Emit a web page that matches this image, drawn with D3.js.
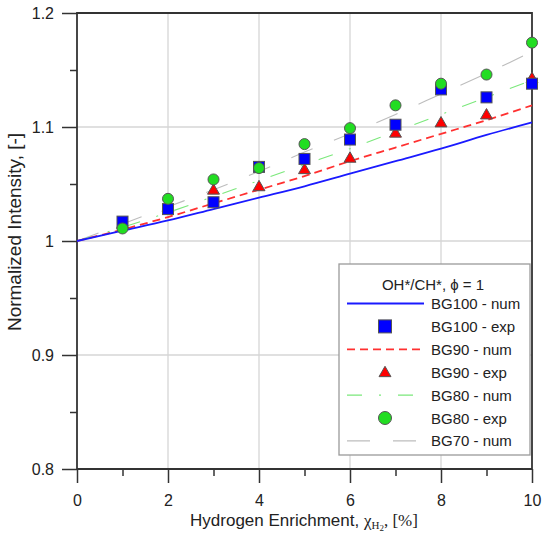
<!DOCTYPE html>
<html>
<head>
<meta charset="utf-8">
<script src="https://cdn.jsdelivr.net/npm/d3@7"></script>
<style>
  body { margin: 0; background: #fff; }
  text { font-family: "Liberation Sans", Arial, sans-serif; fill: #222; }
</style>
</head>
<body>
<svg id="chart"></svg>
<script>
// data
const xNum = [0, 1, 2, 3, 4, 5, 6, 7, 8, 9, 10];
const bg100Num = [1.0, 1.009, 1.018, 1.028, 1.038, 1.048, 1.059, 1.070, 1.081, 1.093, 1.104];
const bg90Num = [1.0, 1.010, 1.021, 1.033, 1.045, 1.057, 1.070, 1.082, 1.094, 1.106, 1.119];
const bg80Num = [1.0, 1.012, 1.025, 1.039, 1.053, 1.067, 1.081, 1.096, 1.111, 1.126, 1.141];
const bg70Num = [1.0, 1.015, 1.030, 1.045, 1.061, 1.078, 1.094, 1.111, 1.129, 1.147, 1.166];

const xExp = [1, 2, 3, 4, 5, 6, 7, 8, 9, 10];
const bg100Exp = [1.017, 1.028, 1.034, 1.065, 1.072, 1.089, 1.102, 1.133, 1.126, 1.138];
const bg90Exp = [1.015, 1.030, 1.045, 1.048, 1.063, 1.073, 1.095, 1.104, 1.111, 1.143];
const bg80Exp = [1.011, 1.037, 1.054, 1.064, 1.085, 1.099, 1.119, 1.138, 1.146, 1.174];

const xTicks = [0, 2, 4, 6, 8, 10];
const xMinor = [1, 3, 5, 7, 9];
const yTicks = [0.8, 0.9, 1.0, 1.1, 1.2];
const yMinor = [0.85, 0.95, 1.05, 1.15];

const width = 543;
const height = 541;
const pLeft = 77, pRight = 532, pTop = 13, pBottom = 469;

const svg = d3.select("#chart").attr("width", width).attr("height", height);

const x = d3.scaleLinear().domain([0, 10]).range([pLeft, pRight]);
const y = d3.scaleLinear().domain([0.8, 1.2]).range([pBottom, pTop]);

// grid
svg.append("g")
  .selectAll("line")
  .data([2, 4, 6, 8])
  .join("line")
  .attr("x1", (d) => x(d)).attr("x2", (d) => x(d))
  .attr("y1", pTop).attr("y2", pBottom)
  .style("stroke", "#d6d6d6").style("stroke-width", 1.3);
svg.append("g")
  .selectAll("line")
  .data([0.9, 1.0, 1.1])
  .join("line")
  .attr("x1", pLeft).attr("x2", pRight)
  .attr("y1", (d) => y(d)).attr("y2", (d) => y(d))
  .style("stroke", "#d6d6d6").style("stroke-width", 1.6);

// axes
let xAxis = svg.append("g")
  .attr("transform", `translate(0,${pBottom})`)
  .call(d3.axisBottom(x).tickValues(xTicks).tickSize(14).tickPadding(12).tickFormat(d3.format("d")));
let xAxisMinor = svg.append("g")
  .attr("transform", `translate(0,${pBottom})`)
  .call(d3.axisBottom(x).tickValues(xMinor).tickSize(7).tickFormat(""));
let yAxis = svg.append("g")
  .attr("transform", `translate(${pLeft},0)`)
  .call(d3.axisLeft(y).tickValues(yTicks).tickSize(15).tickPadding(8).tickFormat((d) => (d === 1 ? "1" : d3.format(".1f")(d))));
let yAxisMinor = svg.append("g")
  .attr("transform", `translate(${pLeft},0)`)
  .call(d3.axisLeft(y).tickValues(yMinor).tickSize(7).tickFormat(""));

[xAxis, xAxisMinor, yAxis, yAxisMinor].forEach((a) => {
  a.select(".domain").remove();
  a.selectAll("line").style("stroke", "#333").style("stroke-width", 1.5);
  a.selectAll("text").style("font-size", "16px").style("fill", "#222")
    .style("font-family", '"Liberation Sans", Arial, sans-serif');
});

// frame
svg.append("path")
  .attr("d", `M${pLeft},${pTop}H${pRight}V${pBottom}H${pLeft}Z`)
  .style("fill", "none").style("stroke", "#333").style("stroke-width", 1.8);

// lines
const lineGen = d3.line().x((d) => x(d[0])).y((d) => y(d[1])).curve(d3.curveMonotoneX);
const numSeries = [
  { name: "BG70 - num", vals: bg70Num, color: "#bdbdbd", width: 1.1, dash: "23,23" },
  { name: "BG80 - num", vals: bg80Num, color: "#7be87b", width: 1.1, dash: "15,17,2,17" },
  { name: "BG90 - num", vals: bg90Num, color: "#ff3030", width: 1.8, dash: "8,5" },
  { name: "BG100 - num", vals: bg100Num, color: "#1a1aff", width: 1.8, dash: null },
];
numSeries.forEach((s) => {
  svg.append("path")
    .datum(xNum.map((v, i) => [v, s.vals[i]]))
    .attr("d", lineGen)
    .style("fill", "none")
    .style("stroke", s.color)
    .style("stroke-width", s.width)
    .style("stroke-dasharray", s.dash);
});

// markers
const sq = 11;
function drawSquare(g, cx, cy) {
  g.append("rect").attr("x", cx - sq / 2).attr("y", cy - sq / 2)
    .attr("width", sq).attr("height", sq)
    .style("fill", "#0000ff").style("stroke", "#555").style("stroke-width", 1);
}
function drawTriangle(g, cx, cy) {
  g.append("path")
    .attr("d", d3.symbol().type(d3.symbolTriangle).size(62)())
    .attr("transform", `translate(${cx},${cy + 1})`)
    .style("fill", "#ff0000").style("stroke", "#555").style("stroke-width", 1);
}
function drawCircle(g, cx, cy) {
  g.append("circle").attr("cx", cx).attr("cy", cy).attr("r", 5.5)
    .style("fill", "#22dd22").style("stroke", "#555").style("stroke-width", 1);
}
let marks = svg.append("g");
xExp.forEach((v, i) => drawTriangle(marks, x(v), y(bg90Exp[i])));
xExp.forEach((v, i) => drawSquare(marks, x(v), y(bg100Exp[i])));
xExp.forEach((v, i) => drawCircle(marks, x(v), y(bg80Exp[i])));

// legend
let legend = svg.append("g");
legend.append("rect")
  .attr("x", 339).attr("y", 264).attr("width", 191).attr("height", 191)
  .style("fill", "#fff").style("stroke", "#9a9a9a").style("stroke-width", 1.3);
legend.append("text")
  .attr("x", 433).attr("y", 290)
  .attr("text-anchor", "middle")
  .style("font-size", "15px")
  .text("OH*/CH*, \u03d5 = 1");

const legendRows = [
  { label: "BG100 - num", kind: "line", s: numSeries[3] },
  { label: "BG100 - exp", kind: "square" },
  { label: "BG90 - num", kind: "line", s: numSeries[2] },
  { label: "BG90 - exp", kind: "triangle" },
  { label: "BG80 - num", kind: "line", s: numSeries[1] },
  { label: "BG80 - exp", kind: "circle" },
  { label: "BG70 - num", kind: "line", s: numSeries[0] },
];
legendRows.forEach((r, i) => {
  let cy = 303.5 + i * 22.9;
  if (r.kind === "line") {
    legend.append("line")
      .attr("x1", 347).attr("x2", 424).attr("y1", cy).attr("y2", cy)
      .style("stroke", r.s.color).style("stroke-width", r.s.width)
      .style("stroke-dasharray", r.s.dash);
  } else if (r.kind === "square") {
    legend.append("rect").attr("x", 385 - 6.5).attr("y", cy - 6.5)
      .attr("width", 13).attr("height", 13)
      .style("fill", "#0000ff").style("stroke", "#555").style("stroke-width", 1);
  } else if (r.kind === "triangle") {
    drawTriangle(legend, 385, cy);
  } else {
    legend.append("circle").attr("cx", 385).attr("cy", cy).attr("r", 6.5)
      .style("fill", "#22dd22").style("stroke", "#555").style("stroke-width", 1);
  }
  legend.append("text")
    .attr("x", 431).attr("y", cy + 5.5)
    .style("font-size", "15px")
    .text(r.label);
});

// axis titles
const serif = '"Liberation Serif", "Times New Roman", serif';
let xt = svg.append("text")
  .attr("x", 304).attr("y", 526)
  .attr("text-anchor", "middle")
  .style("font-size", "17px");
xt.append("tspan").text("Hydrogen Enrichment, ");
xt.append("tspan").style("font-family", serif).text("\u03c7");
xt.append("tspan").attr("dy", 3).style("font-size", "11px").style("font-family", serif).text("H");
xt.append("tspan").attr("dy", 2).style("font-size", "9px").style("font-family", serif).text("2");
xt.append("tspan").attr("dy", -5).style("font-family", serif).text(", [%]");

svg.append("text")
  .attr("transform", "translate(21,232) rotate(-90)")
  .attr("text-anchor", "middle")
  .style("font-size", "19px")
  .text("Normalized Intensity, [-]");
</script>
</body>
</html>
